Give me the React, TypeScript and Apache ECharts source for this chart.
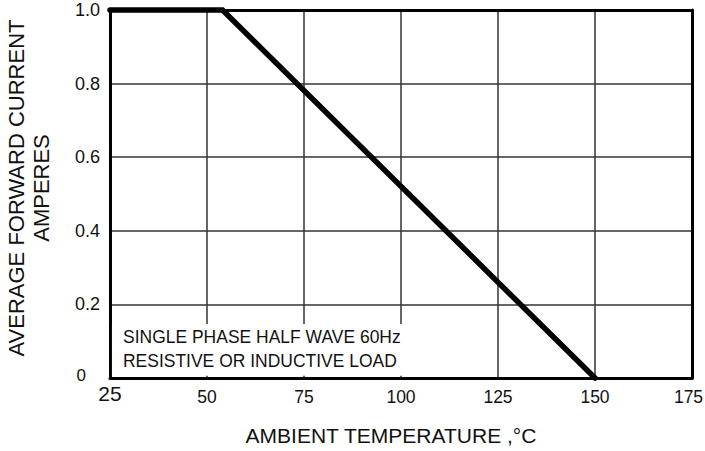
import React, { useEffect, useRef } from "react";
import * as echarts from "echarts";

const xTicks = { min: 25, max: 175, interval: 25 };
const yTicks = { min: 0, max: 1.0, interval: 0.2 };
const temperature = [25, 54, 150];
const current = [1.0, 1.0, 0];
const xTitle = "AMBIENT TEMPERATURE ,\u00B0C";
const yTitle = ["AVERAGE FORWARD CURRENT", "AMPERES"];
const noteLines = ["SINGLE PHASE HALF WAVE 60Hz", "RESISTIVE OR INDUCTIVE LOAD"];

const FONT = '"Liberation Sans", Arial, sans-serif';
const INK = "#111";

export default function App() {
  const ref = useRef<HTMLDivElement>(null);
  useEffect(() => {
    document.body.style.margin = "0";
    if (!ref.current) return;
    const chart = echarts.init(ref.current, null, { renderer: "svg" });
    const data = temperature.map((t, i) => [t, current[i]]);
    const borderLine = { show: true, onZero: false, lineStyle: { color: "#000", width: 3 } };
    chart.setOption({
      animation: false,
      backgroundColor: "#fff",
      grid: { left: 110, right: 13, top: 10, bottom: 73, outerBoundsMode: "none" },
      xAxis: [
        {
          type: "value",
          ...xTicks,
          position: "bottom",
          axisLine: borderLine,
          axisTick: { show: false },
          splitLine: { show: true, lineStyle: { color: "#333", width: 1.5 } },
          axisLabel: {
            margin: 19,
            verticalAlign: "middle",
            color: INK,
            fontFamily: FONT,
            fontSize: 17.5,
            formatter: (v: number) =>
              v === xTicks.min ? "{big|" + v + "}" : v === xTicks.max ? "{last|" + v + "}" : String(v),
            rich: {
              big: { fontSize: 21, fontFamily: FONT, color: INK, padding: [0, 0, 8, 0] },
              last: { fontSize: 17.5, fontFamily: FONT, color: INK, padding: [0, 7, 0, 0] },
            },
          },
        },
        {
          type: "value",
          ...xTicks,
          position: "top",
          axisLine: borderLine,
          axisTick: { show: false },
          axisLabel: { show: false },
          splitLine: { show: false },
        },
      ],
      yAxis: [
        {
          type: "value",
          ...yTicks,
          position: "left",
          axisLine: borderLine,
          axisTick: { show: false },
          splitLine: { show: true, lineStyle: { color: "#333", width: 1.5 } },
          axisLabel: {
            margin: 10,
            color: INK,
            fontFamily: FONT,
            fontSize: 18,
            formatter: (v: number) => (v === 0 ? "{z|0}" : v.toFixed(1)),
            rich: {
              z: { fontSize: 17, fontFamily: FONT, color: INK, padding: [0, 14, 6, 0] },
            },
          },
        },
        {
          type: "value",
          ...yTicks,
          position: "right",
          axisLine: borderLine,
          axisTick: { show: false },
          axisLabel: { show: false },
          splitLine: { show: false },
        },
      ],
      series: [
        {
          type: "line",
          data,
          xAxisIndex: 0,
          yAxisIndex: 0,
          symbol: "none",
          clip: false,
          lineStyle: { color: "#000", width: 5.5, cap: "round", join: "miter" },
          markArea: {
            silent: true,
            itemStyle: { color: "#fff", borderWidth: 0 },
            data: [[{ coord: [25.5, 0.006] }, { coord: [103, 0.147] }]],
          },
        },
      ],
      graphic: [
        {
          type: "text",
          x: 391,
          y: 435,
          z: 10,
          style: {
            text: xTitle,
            fontFamily: FONT,
            fontSize: 21,
            fill: INK,
            align: "center",
            verticalAlign: "middle",
          },
        },
        {
          type: "text",
          x: 28.5,
          y: 188,
          z: 10,
          rotation: Math.PI / 2,
          style: {
            text: yTitle.join("\n"),
            fontFamily: FONT,
            fontSize: 22,
            lineHeight: 25,
            fill: INK,
            align: "center",
            verticalAlign: "middle",
          },
        },
        {
          type: "text",
          x: 123,
          y: 348,
          z: 10,
          scaleX: 0.92,
          style: {
            text: noteLines.join("\n"),
            fontFamily: FONT,
            fontSize: 19,
            lineHeight: 23.5,
            fill: INK,
            align: "left",
            verticalAlign: "middle",
          },
        },
      ],
    });
    return () => chart.dispose();
  }, []);
  return <div ref={ref} style={{ width: 705, height: 451 }} />;
}
